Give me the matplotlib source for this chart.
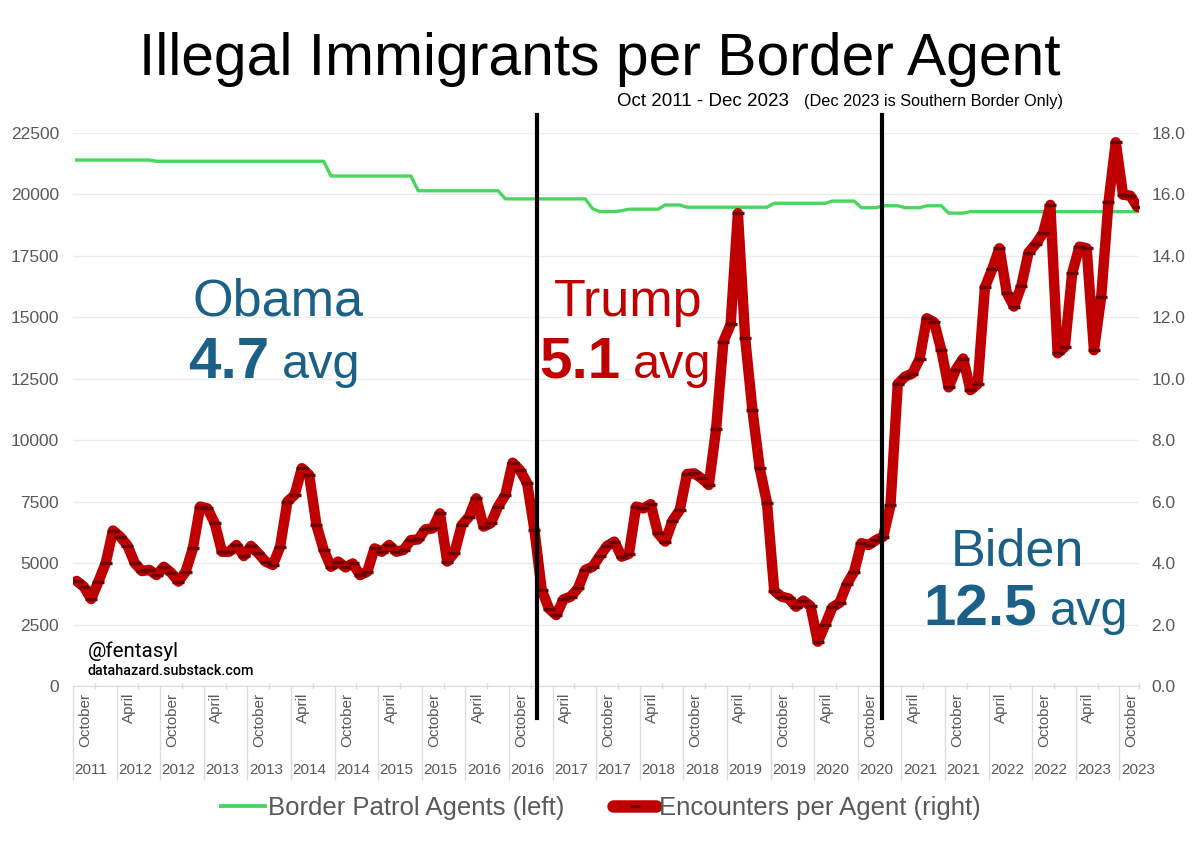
import matplotlib

matplotlib.use("Agg")
import matplotlib.pyplot as plt
from matplotlib.lines import Line2D

plt.rcParams["font.family"] = ["Liberation Sans", "DejaVu Sans"]

# monthly, Oct 2011 .. Dec 2023
month_labels = ["October", "April"] * 12 + ["October"]
year_labels = ["2011", "2012", "2012", "2013", "2013", "2014", "2014", "2015", "2015",
               "2016", "2016", "2017", "2017", "2018", "2018", "2019", "2019", "2020",
               "2020", "2021", "2021", "2022", "2022", "2023", "2023"]

agents = [
    21400, 21400, 21400, 21400, 21400, 21400, 21400, 21400, 21400, 21400, 21400,
    21350, 21350, 21350, 21350, 21350, 21350, 21350, 21350, 21350, 21350, 21350, 21350,
    21350, 21350, 21350, 21350, 21350, 21350, 21350, 21350, 21350, 21350, 21350, 21350,
    20750, 20750, 20750, 20750, 20750, 20750, 20750, 20750, 20750, 20750, 20750, 20750,
    20150, 20150, 20150, 20150, 20150, 20150, 20150, 20150, 20150, 20150, 20150, 20150,
    19820, 19820, 19820, 19820, 19820, 19820, 19820, 19820, 19820, 19820, 19820, 19820,
    19420, 19300, 19300, 19300, 19340, 19400, 19400, 19400, 19400, 19400,
    19570, 19570, 19570,
    19480, 19480, 19480, 19480, 19480, 19480, 19480, 19480, 19480, 19480, 19480, 19480,
    19640, 19640, 19640, 19640, 19640, 19640, 19640, 19640,
    19730, 19730, 19730, 19730,
    19460, 19460, 19460,
    19540, 19540, 19540,
    19460, 19460, 19460,
    19540, 19540, 19540,
    19240, 19240, 19240,
    19300, 19300, 19300, 19300, 19300, 19300, 19300, 19300, 19300, 19300, 19300, 19300,
    19300, 19300, 19300, 19300, 19300, 19300, 19300, 19300, 19300, 19300, 19300, 19300,
]

per_agent = [
    3.42, 3.23, 2.83, 3.40, 4.00, 5.06, 4.86, 4.57, 4.00, 3.74,
    3.78, 3.61, 3.88, 3.69, 3.40, 3.72, 4.48, 5.84, 5.78, 5.30,
    4.37, 4.37, 4.59, 4.23, 4.56, 4.32, 4.05, 3.94, 4.53, 6.00,
    6.22, 7.09, 6.87, 5.24, 4.43, 3.88, 4.05, 3.86, 3.99, 3.61,
    3.72, 4.48, 4.37, 4.59, 4.37, 4.43, 4.75, 4.77, 5.10, 5.13,
    5.62, 4.05, 4.34, 5.24, 5.51, 6.11, 5.19, 5.30, 5.84, 6.22,
    7.27, 7.03, 6.60, 5.08, 3.13, 2.52, 2.31, 2.82, 2.91, 3.18,
    3.78, 3.88, 4.23, 4.56, 4.70, 4.21, 4.30, 5.84, 5.78, 5.92,
    4.97, 4.70, 5.38, 5.73, 6.90, 6.92, 6.76, 6.54, 8.36, 11.21,
    11.77, 15.39, 11.32, 8.98, 7.09, 5.97, 3.10, 2.91, 2.85, 2.58,
    2.78, 2.60, 1.44, 1.99, 2.56, 2.71, 3.32, 3.72, 4.65, 4.59,
    4.75, 4.86, 5.89, 9.83, 10.07, 10.17, 10.64, 11.97, 11.84, 10.93,
    9.72, 10.30, 10.66, 9.63, 9.83, 12.98, 13.57, 14.25, 12.80, 12.35,
    13.02, 14.11, 14.39, 14.74, 15.66, 10.83, 11.04, 13.43, 14.30, 14.25,
    10.93, 12.67, 15.74, 17.70, 15.99, 15.96, 15.59,
]

left_ticks = [0, 2500, 5000, 7500, 10000, 12500, 15000, 17500, 20000, 22500]
right_ticks = [0, 2, 4, 6, 8, 10, 12, 14, 16, 18]
term_starts = [63.3, 110.85]  # Trump, Biden

GREEN = "#4ad65e"
RED = "#c00000"
DARK_RED = "#6e0000"
BLUE = "#1b6087"
GRAY = "#595959"
W, H = 1200, 844

fig = plt.figure(figsize=(12, 8.44), dpi=100)
ax = fig.add_axes([73 / W, 1 - 686 / H, (1139 - 73) / W, (686 - 133) / H])
ax2 = ax.twinx()

x = list(range(len(per_agent)))
ax.plot(x, agents, color=GREEN, lw=2.4, solid_joinstyle="round", zorder=3)
ax2.plot(x, per_agent, color=RED, lw=7.5, solid_joinstyle="round", solid_capstyle="round",
         marker="_", markersize=8, markeredgewidth=2.4, markeredgecolor=DARK_RED, zorder=3)

ax.set_xlim(-0.3, 146.2)
ax.set_ylim(0, 22500)
ax2.set_ylim(0, 18)
ax.set_yticks(left_ticks)
ax.set_yticklabels([str(v) for v in left_ticks])
ax2.set_yticks(right_ticks)
ax2.set_yticklabels([f"{v:.1f}" for v in right_ticks])
ax.yaxis.grid(True, color="#ececec", lw=1.0)
ax.set_axisbelow(True)
for a in (ax, ax2):
    for s in a.spines.values():
        s.set_visible(False)
    a.tick_params(axis="y", length=0, labelsize=12.5, labelcolor=GRAY)
ax.tick_params(axis="y", pad=10)
ax2.tick_params(axis="y", pad=9)
ax.spines["bottom"].set_visible(True)
ax.spines["bottom"].set_color("#d9d9d9")

# category dividers and tick crosses
seps = [6 * k - 0.5 for k in range(25)]
mids = [6 * k + 2.5 for k in range(24)] + [146.2]
ax.set_xticks(seps)
ax.set_xticklabels([])
ax.set_xticks(mids, minor=True)
ax.tick_params(axis="x", which="major", length=68, width=1, color="#dcdcdc", direction="out")
ax.tick_params(axis="x", which="minor", length=5, width=1, color="#dcdcdc", direction="inout")

tr = ax.get_xaxis_transform()
for k, (m, yr) in enumerate(zip(month_labels, year_labels)):
    ax.text(6 * k + 1.2, -0.012, m, transform=tr, rotation=90, ha="center", va="top",
            fontsize=11, color=GRAY)
    ax.text(6 * k - 0.3, -0.152, yr, transform=tr, ha="left", va="center",
            fontsize=11, color=GRAY)

for t in term_starts:
    ax2.axvline(t, ymin=-0.058, ymax=1.0325, color="black", lw=3, clip_on=False, zorder=5)

# titles
fig.text(0.5, 1 - 75 / H, "Illegal Immigrants per Border Agent", ha="center", va="baseline",
         fontsize=42.3, color="black")
fig.text(617 / W, 1 - 106 / H, "Oct 2011 - Dec 2023", ha="left", va="baseline",
         fontsize=13.5, color="black")
fig.text(1063 / W, 1 - 106 / H, "(Dec 2023 is Southern Border Only)", ha="right",
         va="baseline", fontsize=11.7, color="black")


# presidency labels
def term_label(name, avg, cx, split_x, y_name, y_avg, color):
    fig.text(cx / W, 1 - y_name / H, name, ha="center", va="baseline", fontsize=37.5, color=color)
    fig.text(split_x / W, 1 - y_avg / H, avg, ha="right", va="baseline", fontsize=42,
             fontweight="bold", color=color)
    fig.text((split_x + 13) / W, 1 - y_avg / H, "avg", ha="left", va="baseline",
             fontsize=35, color=color)


term_label("Obama", "4.7", 278, 269, 316, 378, BLUE)
term_label("Trump", "5.1", 628, 620, 316, 378, RED)
term_label("Biden", "12.5", 1017, 1037, 565, 625, BLUE)

fig.text(88 / W, 1 - 657 / H, "@fentasyl", ha="left", va="baseline", fontsize=14.8,
         family="Roboto", color="black")
fig.text(88 / W, 1 - 675 / H, "datahazard.substack.com", ha="left", va="baseline",
         fontsize=10.3, family="Roboto", fontweight="medium", color="black")

handles = [
    Line2D([], [], color=GREEN, lw=2.8),
    Line2D([], [], color=RED, lw=9, solid_capstyle="round", marker="_", markersize=7,
           markeredgewidth=2.2, markeredgecolor=DARK_RED),
]
fig.legend(handles, ["Border Patrol Agents (left)", "Encounters per Agent (right)"],
           loc="center", bbox_to_anchor=(601 / W, 1 - 808 / H), ncol=2, frameon=False,
           fontsize=18.5, labelcolor=GRAY, handlelength=1.7, handletextpad=0.1,
           columnspacing=1.9)

fig.savefig("out.png", dpi=100)
